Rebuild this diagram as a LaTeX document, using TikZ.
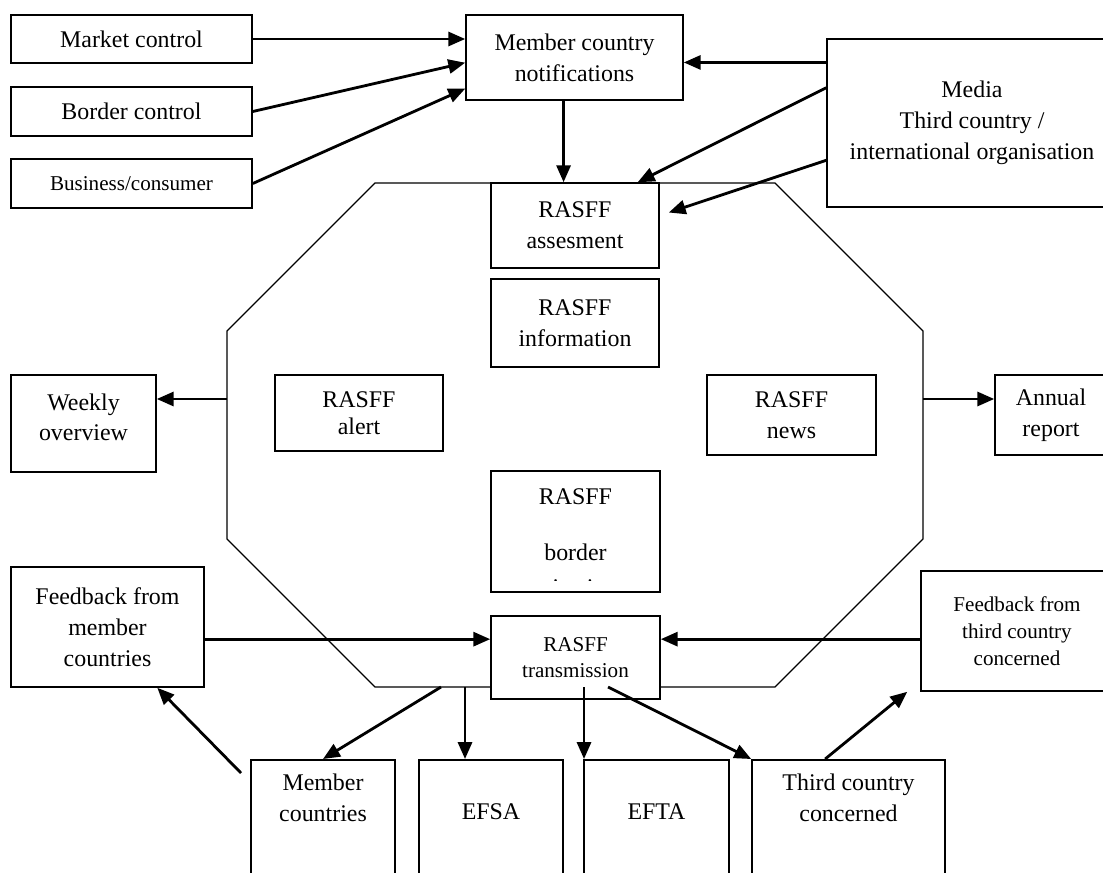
\documentclass[tikz,border=0pt]{standalone}
\usepackage{fontspec}
\setmainfont{Liberation Serif}
\usepackage{tikz}
\usetikzlibrary{calc}
\usetikzlibrary{positioning}
\usetikzlibrary{arrows.meta}
\tikzset{box/.style={draw=black,line width=1.1pt,fill=white,align=center,inner sep=2pt,font=\fontsize{17}{22}\selectfont}}
\tikzset{smallbox/.style={box,font=\fontsize{15}{19}\selectfont}}
\tikzset{tallbox/.style={box,anchor=north,minimum height=3.525cm}}
\tikzset{boxlabel/.style={align=center,anchor=north,font=\fontsize{17}{22}\selectfont}}
\tikzset{conn/.style={->,line width=2pt}}
\tikzset{>={Triangle[length=12pt,width=10pt]}}

\begin{document}
\begin{tikzpicture}[x=0.025cm,y=-0.025cm]
		\useasboundingbox (0,0) rectangle (1103,873);
		% the RASFF octagon
		\draw[line width=0.8pt] (375,183) -- (775,183) -- (923,331) -- (923,539) -- (775,687) -- (375,687) -- (227,539) -- (227,331) -- cycle;
		\node[box,minimum width=6.025cm,minimum height=1.2cm] (mkt) at (131.5,39) {Market control};
		\node[box,minimum width=6.025cm,minimum height=1.225cm] (brd) at (131.5,111.5) {Border control};
		\node[smallbox,minimum width=6.025cm,minimum height=1.225cm] (bus) at (131.5,183.5) {Business/consumer};
		\node[box,minimum width=5.425cm,minimum height=2.125cm] (mcn) at (574.5,57.5) {Member country\\notifications};
		\node[box,minimum width=7.25cm,minimum height=4.2cm] (media) at (972,123) {Media\\Third country /\\international organisation};
		\node[box,minimum width=4.2cm,minimum height=2.125cm] (assess) at (575,225.5) {RASFF\\assesment};
		\node[box,minimum width=4.2cm,minimum height=2.2cm] (info) at (575,323) {RASFF\\information};
		\node[box,minimum width=4.2cm,minimum height=1.9cm,font=\fontsize{17}{19}\selectfont] (alert) at (359,413) {RASFF\\alert};
		\node[box,minimum width=4.225cm,minimum height=2cm] (news) at (791.5,415) {RASFF\\news};
		\node[box,minimum width=3.625cm,minimum height=2.425cm,text depth=9pt] (weekly) at (83.5,423.5) {Weekly\\overview};
		\node[box,minimum width=2.8cm,minimum height=2cm] (annual) at (1051,415) {Annual\\report};
		\node[box,minimum width=4.225cm,minimum height=3.025cm] (border) at (575.5,531.5) {};
		\begin{scope}
			\clip (border.north west) rectangle ([yshift=0.3cm]border.south east);
			\node[boxlabel,inner sep=0pt] (bordertxt) at ([yshift=-0.45cm]border.north) {RASFF\\[18pt]border\\[3pt]rejection};
		\end{scope}
		\node[smallbox,minimum width=4.225cm,minimum height=2.075cm] (trans) at (575.5,657.5) {RASFF\\transmission};
		\node[box,minimum width=4.825cm,minimum height=3cm] (fbm) at (107.5,627) {Feedback from\\member\\countries};
		\node[smallbox,minimum width=4.8cm,minimum height=3cm] (fbt) at (1017,631) {Feedback from\\third country\\concerned};
		\node[tallbox,minimum width=3.6cm,label={[boxlabel,label distance=-0.25cm]north:Member\\countries}] (memc) at (323,759) {};
		\node[tallbox,minimum width=3.6cm,label={[boxlabel,label distance=-1cm]north:EFSA}] (efsa) at (491,759) {};
		\node[tallbox,minimum width=3.625cm,label={[boxlabel,label distance=-1cm]north:EFTA}] (efta) at (656.5,759) {};
		\node[tallbox,minimum width=4.825cm,label={[boxlabel,label distance=-0.25cm]north:Third country\\concerned}] (third) at (848.5,759) {};
		% where the connectors meet the boxes
		\coordinate (mcnA) at ($(mcn.north west)!0.56!(mcn.south west)$);
		\coordinate (mcnB) at ($(mcn.north west)!0.86!(mcn.south west)$);
		\coordinate (mcnS) at ($(mcn.south west)!0.45!(mcn.south east)$);
		\coordinate (mediaA) at ($(media.north west)!0.143!(media.south west)$);
		\coordinate (mediaB) at ($(media.north west)!0.292!(media.south west)$);
		\coordinate (mediaC) at ($(media.north west)!0.72!(media.south west)$);
		\coordinate (assessN) at ($(assess.north west)!0.87!(assess.north east)$);
		\coordinate (assessE) at ($(assess.north east)!0.35!(assess.south east)$);
		\coordinate (octW) at (227,399);
		\coordinate (octE) at (923,399);
		\coordinate (octS1) at (441,687);
		\coordinate (octS2) at (465,687);
		\coordinate (octS3) at (584,687);
		\coordinate (octS4) at (608,687);
		\coordinate (fbmE) at ($(fbm.north east)!0.6!(fbm.south east)$);
		\coordinate (fbmS) at ($(fbm.south west)!0.756!(fbm.south east)$);
		\coordinate (fbtW) at ($(fbt.north west)!0.567!(fbt.south west)$);
		\coordinate (thirdN) at ($(third.north west)!0.38!(third.north east)$);
		\coordinate (memcFree) at (241,773);
		\path (mkt.east) edge[conn] (mkt.east -| mcn.west);
		\path (brd.east) edge[conn] (mcnA);
		\path (bus.east) edge[conn] (mcnB);
		\path (mediaA) edge[conn] (mediaA -| mcn.east);
		\path (mediaB) edge[conn] (assessN);
		\path (mediaC) edge[conn] ([xshift=0.225cm]assessE);
		\path (mcnS) edge[conn] (mcnS |- assess.north);
		\path (octW) edge[conn] (octW -| weekly.east);
		\path (octE) edge[conn] (octE -| annual.west);
		\path (fbmE) edge[conn] (fbmE -| trans.west);
		\path (fbtW) edge[conn] (fbtW -| trans.east);
		\path (octS1) edge[conn] (memc.north);
		\path (octS2) edge[conn] (octS2 |- efsa.north);
		\path (octS3) edge[conn] (octS3 |- efta.north);
		\path (octS4) edge[conn] (third.north west);
		\path (thirdN) edge[conn] ([xshift=-0.325cm]fbt.south west);
		\path (memcFree) edge[conn] (fbmS);
	\end{tikzpicture}
\end{document}
